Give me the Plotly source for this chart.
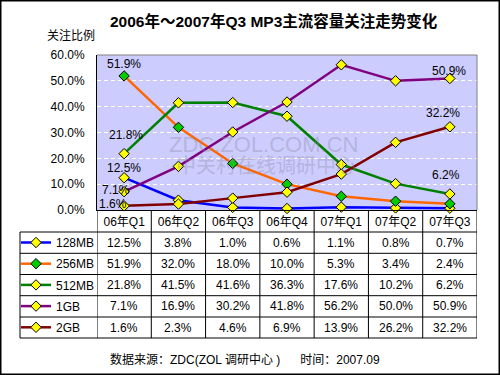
import plotly.graph_objects as go

categories = ["06年Q1", "06年Q2", "06年Q3", "06年Q4", "07年Q1", "07年Q2", "07年Q3"]
names = ["128MB", "256MB", "512MB", "1GB", "2GB"]
s128 = [12.5, 3.8, 1.0, 0.6, 1.1, 0.8, 0.7]
s256 = [51.9, 32.0, 18.0, 10.0, 5.3, 3.4, 2.4]
s512 = [21.8, 41.5, 41.6, 36.3, 17.6, 10.2, 6.2]
s1g = [7.1, 16.9, 30.2, 41.8, 56.2, 50.0, 50.9]
s2g = [1.6, 2.3, 4.6, 6.9, 13.9, 26.2, 32.2]
series = [s128, s256, s512, s1g, s2g]

line_colors = ["#0000FF", "#FF6600", "#008000", "#800080", "#800000"]
marker_colors = ["#FFFF00", "#00CC00", "#FFFF00", "#FFFF00", "#FFFF00"]

W, H = 500, 375
FONT = "Liberation Sans, Arial, Noto Sans CJK SC, sans-serif"

def px(x):
    return x / W

def py(y):
    return 1 - y / H

fig = go.Figure()
for i, (nm, vals) in enumerate(zip(names, series)):
    fig.add_trace(go.Scatter(
        x=categories, y=vals, name=nm, mode="lines+markers",
        legendgroup=nm,
        line=dict(color=line_colors[i], width=2.5),
        marker=dict(symbol="diamond", size=8, color=marker_colors[i],
                    line=dict(color="#000000", width=1)),
        cliponaxis=False,
    ))

plot_left, plot_right, plot_top, plot_bottom = 97, 477, 55, 210
row_lines = [232, 253.3, 274.5, 295.7, 317, 338]

fig.update_layout(
    width=W, height=H,
    margin=dict(l=0, r=0, t=0, b=0, autoexpand=False),
    paper_bgcolor="white",
    plot_bgcolor="#CCCCFF",
    font=dict(family=FONT, size=12, color="black"),
    showlegend=True,
    legend=dict(x=px(16), y=py(228), xanchor="left", yanchor="top",
                bgcolor="rgba(0,0,0,0)", borderwidth=0,
                font=dict(size=12, family=FONT),
                tracegroupgap=2.2, itemwidth=30),
    xaxis=dict(domain=[px(plot_left), px(plot_right)], type="category",
               range=[-0.5, 6.5], showgrid=False, showline=True,
               linecolor="black", linewidth=1, ticks="",
               tickfont=dict(size=12), ticklabelstandoff=1, fixedrange=True),
    yaxis=dict(domain=[py(plot_bottom), py(plot_top)], range=[0, 60],
               dtick=10, tickformat=".1f", ticksuffix="%",
               showgrid=True, gridcolor="#FFFFE6", griddash="4px,3px",
               gridwidth=1, zeroline=False, showline=True,
               linecolor="black", linewidth=1, ticks="",
               ticklabelstandoff=9, tickfont=dict(size=12), fixedrange=True),
)

shapes = []
shapes.append(dict(type="line", xref="paper", yref="paper",
                   x0=px(plot_left), x1=px(plot_right), y0=py(plot_top), y1=py(plot_top),
                   line=dict(color="#808080", width=1)))
shapes.append(dict(type="line", xref="paper", yref="paper",
                   x0=px(plot_right), x1=px(plot_right), y0=py(plot_top), y1=py(plot_bottom),
                   line=dict(color="#808080", width=1)))
for ry in row_lines:
    shapes.append(dict(type="line", xref="paper", yref="paper",
                       x0=px(20), x1=px(plot_right), y0=py(ry), y1=py(ry),
                       line=dict(color="black", width=1)))
shapes.append(dict(type="line", xref="paper", yref="paper",
                   x0=px(20), x1=px(20), y0=py(row_lines[0]), y1=py(row_lines[-1]),
                   line=dict(color="black", width=1)))
for k in range(len(categories) + 1):
    shapes.append(dict(type="line", xref="x", yref="paper",
                       x0=k - 0.5, x1=k - 0.5, y0=py(plot_bottom), y1=py(row_lines[-1]),
                       line=dict(color="black", width=1)))
shapes.append(dict(type="rect", xref="paper", yref="paper", x0=0, x1=1, y0=0, y1=1,
                   line=dict(color="black", width=3), fillcolor="rgba(0,0,0,0)"))
fig.update_layout(shapes=shapes)

ann = []
def add_ann(**kw):
    kw.setdefault("xanchor", "center")
    kw.setdefault("yanchor", "middle")
    kw.setdefault("showarrow", False)
    ann.append(kw)

add_ann(text="<b>2006年～2007年Q3 MP3主流容量关注走势变化</b>", x=px(274), y=py(21),
        xref="paper", yref="paper", font=dict(size=15.5, family=FONT))
add_ann(text="关注比例", x=px(71), y=py(36), xref="paper", yref="paper",
        font=dict(size=12, family=FONT))
add_ann(text="ZDC.ZOL.COM.CN", x=px(263), y=py(144), xref="paper", yref="paper",
        font=dict(size=22, family=FONT, color="rgba(140,140,165,0.4)"))
add_ann(text="中关村在线调研中心", x=px(266), y=py(166), xref="paper", yref="paper",
        font=dict(size=20, family=FONT, color="rgba(140,140,165,0.4)"))
for r, vals in enumerate(series):
    yc = (row_lines[r] + row_lines[r + 1]) / 2
    for c, v in enumerate(vals):
        add_ann(text=f"{v:.1f}%", x=categories[c], y=py(yc), xref="x", yref="paper",
                font=dict(size=12, family=FONT))
label_specs = [(1, 0, 0, 12), (2, 0, 2, 19), (0, 0, 0, 10), (3, 0, -8, 2), (4, 0, -11, 2),
               (3, 6, -1, 8), (4, 6, -7, 14), (2, 6, -4, 19)]
for si, pi, xs, ys in label_specs:
    v = series[si][pi]
    add_ann(text=f"{v:.1f}%", x=categories[pi], y=v, xref="x", yref="y",
            xshift=xs, yshift=ys, font=dict(size=12, family=FONT))
add_ann(text="数据来源：ZDC(ZOL 调研中心 )&nbsp;&nbsp;&nbsp;&nbsp;&nbsp;&nbsp;时间：2007.09",
        x=px(245), y=py(359), xref="paper", yref="paper", font=dict(size=12, family=FONT))
fig.update_layout(annotations=ann)

fig.write_html("out.html", config={"displayModeBar": False},
               post_script="document.body.style.margin='0';")
